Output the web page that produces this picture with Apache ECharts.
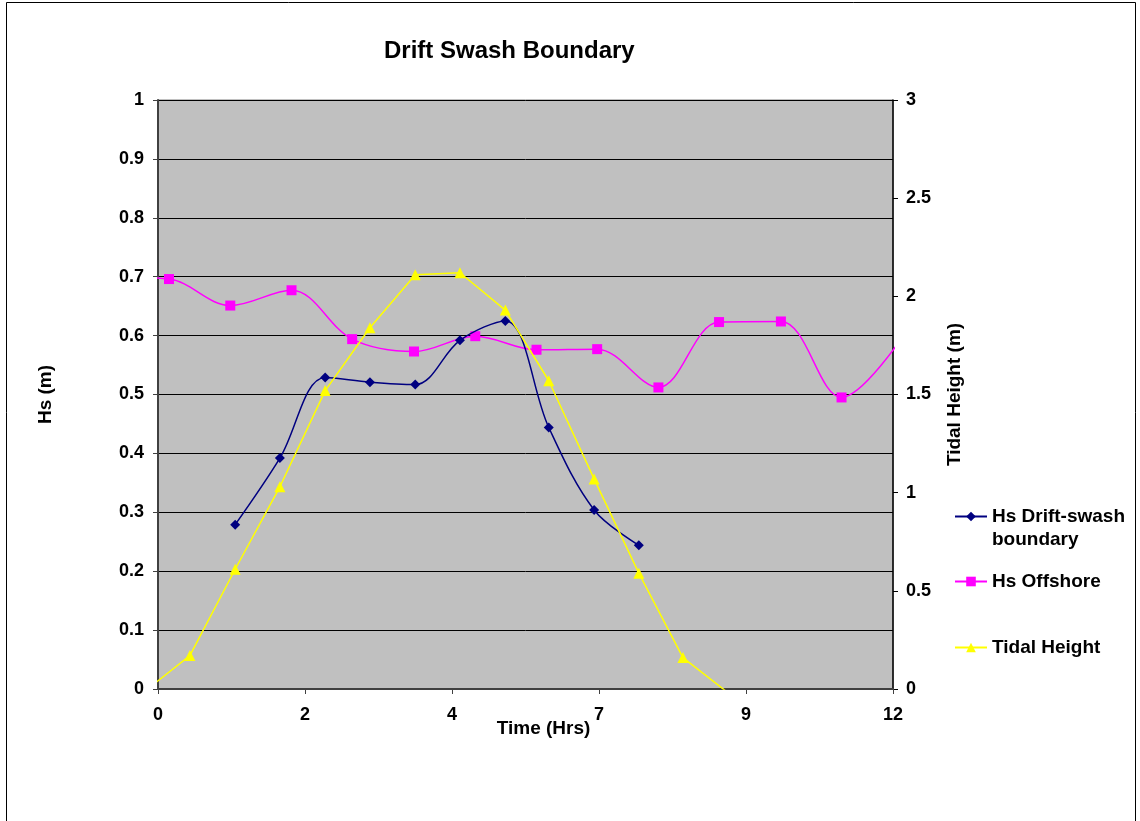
<!DOCTYPE html>
<html>
<head>
<meta charset="utf-8">
<title>Drift Swash Boundary</title>
<script src="https://cdn.jsdelivr.net/npm/echarts@6/dist/echarts.min.js"></script>
<style>
  html, body { margin: 0; padding: 0; background: #ffffff; }
  #chart { width: 1140px; height: 821px; }
</style>
</head>
<body>
<div id="chart"></div>
<script>
// Time axis tick labels (Excel-style truncated values of 0, 2.4, 4.8, ...)
var timeTickLabels = ['0', '2', '4', '7', '9', '12'];

// Hs at the drift-swash boundary (m)
var driftTime = [1.26, 1.99, 2.73, 3.46, 4.20, 4.93, 5.67, 6.38, 7.12, 7.85];
var driftHs   = [0.279, 0.392, 0.529, 0.521, 0.517, 0.592, 0.625, 0.444, 0.304, 0.244];

// Offshore Hs (m); first and last readings fall just outside the plotted window
var offshoreTime = [-0.82, 0.18, 1.18, 2.18, 3.17, 4.18, 5.18, 6.18, 7.17, 8.17, 9.16, 10.17, 11.16, 12.17];
var offshoreHs   = [0.70, 0.696, 0.651, 0.677, 0.594, 0.573, 0.599, 0.576, 0.577, 0.512, 0.623, 0.624, 0.495, 0.60];

// Tidal height (m)
var tideTime   = [-0.21, 0.52, 1.26, 1.99, 2.73, 3.46, 4.20, 4.93, 5.67, 6.38, 7.12, 7.85, 8.57, 9.31];
var tideHeight = [-0.01, 0.17, 0.61, 1.03, 1.52, 1.84, 2.11, 2.12, 1.93, 1.57, 1.07, 0.59, 0.16, -0.02];

var seriesNames = ['Hs Drift-swash boundary', 'Hs Offshore', 'Tidal Height'];

function zip(xs, ys) {
  return xs.map(function (x, i) { return [x, ys[i]]; });
}

var FONT = '"Liberation Sans", Arial, sans-serif';
var labelStyle = { fontFamily: FONT, fontWeight: 'bold', fontSize: 18, color: '#000' };
var legendText = { fontFamily: FONT, fontWeight: 'bold', fontSize: 19, color: '#000', lineHeight: 23 };

var chart = echarts.init(document.getElementById('chart'), null, { renderer: 'canvas' });

chart.setOption({
  backgroundColor: '#ffffff',
  animation: false,
  title: {
    text: 'Drift Swash Boundary',
    left: 379,
    top: 34,
    textStyle: { fontFamily: FONT, fontWeight: 'bold', fontSize: 24, color: '#000' }
  },
  graphic: [{
    type: 'rect',
    z: -10,
    shape: { x: 6.5, y: 2.5, width: 1129, height: 840 },
    style: { fill: 'none', stroke: '#000', lineWidth: 1 }
  }],
  grid: {
    left: 158, top: 100, right: 247, bottom: 132,
    show: true,
    backgroundColor: '#C0C0C0',
    borderColor: '#808080',
    borderWidth: 1
  },
  legend: [
    {
      // leading blank line keeps the icon level with the first text line
      data: [seriesNames[0]], orient: 'vertical', left: 954, top: 482, padding: 0,
      itemWidth: 32, itemHeight: 12,
      formatter: function () { return '\nHs Drift-swash\nboundary'; },
      textStyle: legendText
    },
    {
      data: [seriesNames[1]], orient: 'vertical', left: 954, top: 570, padding: 0,
      itemWidth: 32, itemHeight: 12,
      textStyle: legendText
    },
    {
      data: [seriesNames[2]], orient: 'vertical', left: 954, top: 636, padding: 0,
      itemWidth: 32, itemHeight: 12,
      textStyle: legendText
    }
  ],
  xAxis: {
    type: 'value',
    min: 0, max: 12, interval: 2.4,
    name: 'Time (Hrs)',
    nameLocation: 'middle',
    nameGap: 30,
    nameMoveOverlap: false,
    nameTextStyle: { fontFamily: FONT, fontWeight: 'bold', fontSize: 19, color: '#000', padding: [0, 0, 0, 36] },
    axisLine: { show: true, onZero: false, lineStyle: { color: '#404040', width: 2 } },
    axisTick: { show: true, inside: false, length: 5, lineStyle: { color: '#404040', width: 1 } },
    axisLabel: Object.assign({
      margin: 17,
      formatter: function (v) { return timeTickLabels[Math.round(v / 2.4)]; }
    }, labelStyle),
    splitLine: { show: false }
  },
  yAxis: [
    {
      type: 'value',
      min: 0, max: 1, interval: 0.1,
      name: 'Hs (m)',
      nameLocation: 'middle',
      nameGap: 103,
      nameMoveOverlap: false,
      nameTextStyle: { fontFamily: FONT, fontWeight: 'bold', fontSize: 19, color: '#000' },
      axisLine: { show: true, lineStyle: { color: '#404040', width: 2 } },
      axisTick: { show: true, length: 5, lineStyle: { color: '#404040', width: 1 } },
      axisLabel: Object.assign({ margin: 14 }, labelStyle),
      splitLine: { show: true, lineStyle: { color: '#000', width: 1 } }
    },
    {
      type: 'value',
      position: 'right',
      min: 0, max: 3, interval: 0.5,
      name: 'Tidal Height (m)',
      nameLocation: 'middle',
      nameGap: 52,
      nameMoveOverlap: false,
      nameTextStyle: { fontFamily: FONT, fontWeight: 'bold', fontSize: 19, color: '#000' },
      axisLine: { show: true, lineStyle: { color: '#000', width: 1.5 } },
      axisTick: { show: true, length: 5, lineStyle: { color: '#000', width: 1 } },
      axisLabel: Object.assign({ margin: 13 }, labelStyle),
      splitLine: { show: false }
    }
  ],
  series: [
    {
      name: seriesNames[0],
      type: 'line',
      yAxisIndex: 0,
      data: zip(driftTime, driftHs),
      smooth: 0.35,
      clip: true,
      symbol: 'diamond',
      symbolSize: 10,
      itemStyle: { color: '#000080' },
      lineStyle: { color: '#000080', width: 1.5 },
      z: 4
    },
    {
      name: seriesNames[1],
      type: 'line',
      yAxisIndex: 0,
      data: zip(offshoreTime, offshoreHs),
      smooth: 0.35,
      clip: true,
      symbol: 'rect',
      symbolSize: 10,
      itemStyle: { color: '#FF00FF' },
      lineStyle: { color: '#FF00FF', width: 1.5 },
      z: 3
    },
    {
      name: seriesNames[2],
      type: 'line',
      yAxisIndex: 1,
      data: zip(tideTime, tideHeight),
      smooth: false,
      clip: true,
      symbol: 'triangle',
      symbolSize: 11,
      itemStyle: { color: '#FFFF00' },
      lineStyle: { color: '#FFFF00', width: 1.5 },
      z: 5
    }
  ]
});
</script>
</body>
</html>
